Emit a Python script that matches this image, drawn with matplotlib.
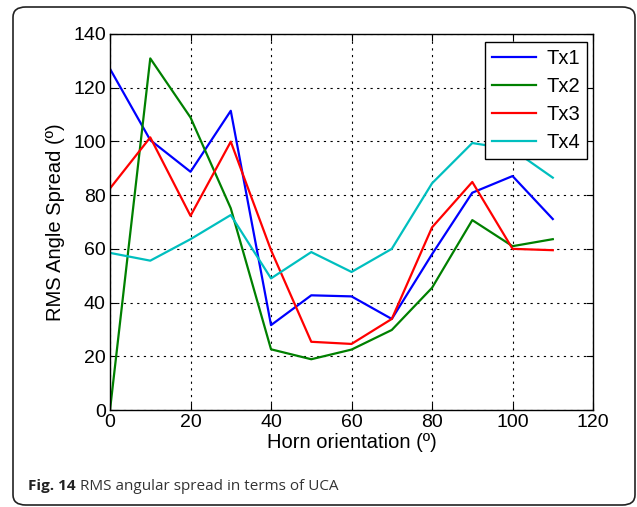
import numpy as np
import matplotlib.pyplot as plt
from matplotlib.patches import FancyBboxPatch

plt.rcParams['font.family'] = ['Liberation Sans', 'DejaVu Sans']

# horn orientation (degrees)
angles = [0, 10, 20, 30, 40, 50, 60, 70, 80, 90, 100, 110]

tx1 = [127, 100.5, 88.7, 111.4, 31.6, 42.7, 42.3, 33.9, 58, 80.9, 87.1, 71.1]
tx2 = [0, 130.9, 108.9, 75.1, 22.6, 18.9, 22.5, 29.8, 45.5, 70.7, 61.0, 63.6]
tx3 = [82.5, 101.5, 72.3, 99.9, 59.5, 25.4, 24.6, 33.9, 68.0, 84.9, 60.0, 59.5]
tx4 = [58.5, 55.6, 63.6, 72.6, 49.0, 58.8, 51.4, 60.0, 84.4, 99.4, 97, 86.5]

series = [("Tx1", tx1, (0, 0, 1)),
          ("Tx2", tx2, (0, 0.5, 0)),
          ("Tx3", tx3, (1, 0, 0)),
          ("Tx4", tx4, (0, 0.75, 0.75))]

fig = plt.figure(figsize=(6.37, 5.07), dpi=100)

# rounded outer frame
frame = FancyBboxPatch((13 / 637, 2 / 507), 622 / 637, 498 / 507,
                       boxstyle="round,pad=0,rounding_size=0.02",
                       transform=fig.transFigure, fill=False,
                       edgecolor='#222222', linewidth=1.2)
fig.patches.append(frame)

ax = fig.add_axes([0.1727, 0.1913, 0.7583, 0.7417])
for name, vals, col in series:
    ax.plot(angles, vals, color=col, linewidth=1.6, label=name)

ax.set_xlim(0, 120)
ax.set_ylim(0, 140)
ax.set_xticks(np.arange(0, 121, 20))
ax.set_yticks(np.arange(0, 141, 20))
ax.grid(True, color='black', linestyle=(0, (2, 4)), linewidth=0.8)
ax.tick_params(direction='in', top=True, right=True, labelsize=14, length=5, pad=3)
for sp in ax.spines.values():
    sp.set_linewidth(1.0)

ax.set_xlabel("Horn orientation (º)", fontsize=14.5, labelpad=1)
ax.set_ylabel("RMS Angle Spread (º)", fontsize=14.5, labelpad=6)

leg = ax.legend(loc='upper right', bbox_to_anchor=(0.988, 0.979), fontsize=14.5,
                fancybox=False, framealpha=1, edgecolor='black',
                handlelength=2.2, labelspacing=0.45, borderpad=0.35,
                handletextpad=0.5, borderaxespad=0)
leg.get_frame().set_linewidth(1.0)

# caption: bold "Fig. 14" followed by regular text
cap_font = ['Open Sans', 'DejaVu Sans']
cap_y = 1 - 486 / 507
t1 = fig.text(28 / 637, cap_y, "Fig. 14", fontsize=11, fontweight='bold',
              va='center', ha='left', color='#222222', family=cap_font)
fig.canvas.draw()
bb = t1.get_window_extent()
fig.text((bb.x1 + 4) / 637, cap_y, "RMS angular spread in terms of UCA",
         fontsize=11, va='center', ha='left', color='#333333', family=cap_font)

fig.savefig("out.png", dpi=100)
